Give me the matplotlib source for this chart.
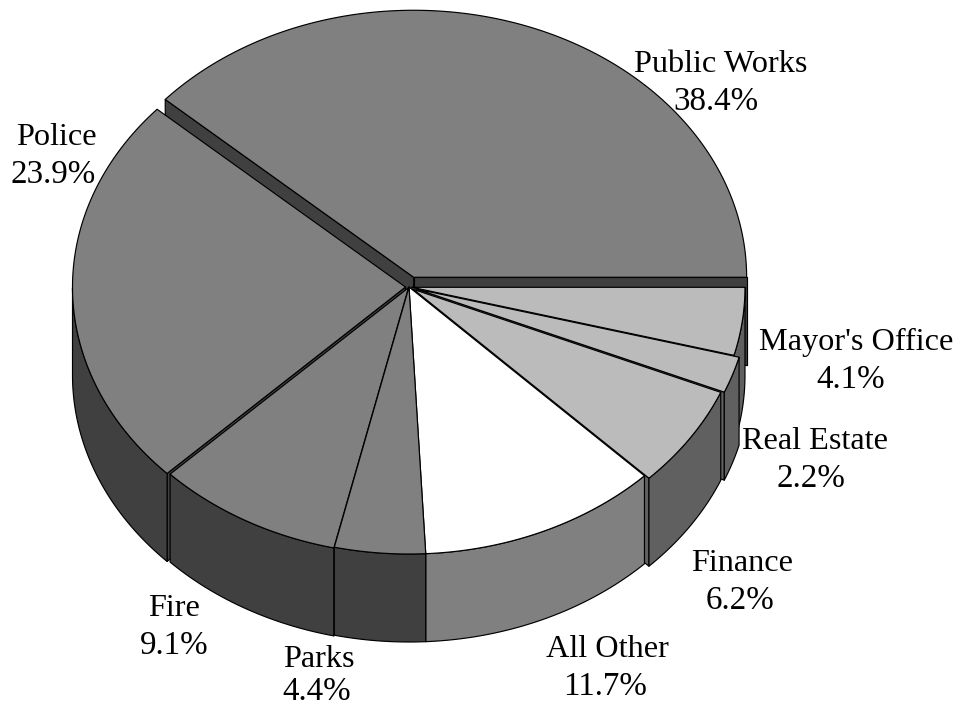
import matplotlib
matplotlib.use("Agg")
import matplotlib.pyplot as plt
from matplotlib.patches import Polygon
import numpy as np

# budget shares, counter-clockwise from due east
departments = ["Public Works", "Police", "Fire", "Parks", "All Other", "Finance", "Real Estate", "Mayor's Office"]
shares = [38.4, 23.9, 9.1, 4.4, 11.7, 6.2, 2.2, 4.1]

# how far each slice is pulled out along its bisector, in pixels
explode = [13, 3.5, 1, 0, 0, 5.4, 8.5, 3]

top_colors = ["#808080", "#808080", "#808080", "#808080", "#ffffff", "#bbbbbb", "#bbbbbb", "#bbbbbb"]
side_colors = ["#404040", "#404040", "#404040", "#404040", "#808080", "#606060", "#606060", "#606060"]

name_xy = [(721, 72), (56, 145), (174.5, 616), (319, 667), (607, 657), (742, 571), (815, 449), (856, 350)]
value_xy = [(716, 110), (53, 183), (174, 654), (317, 700), (605, 695), (740, 609), (811, 487), (851, 388)]

# back slices first so the front ones cover them
draw_order = [0, 1, 7, 6, 5, 4, 2, 3]

CX, CY = 409, 287
RX, RY = 333, 267
DEPTH = 88
LW = 0.85
FONT = "Liberation Serif"


def rim(cx, cy, a):
    a = np.radians(a)
    return np.column_stack([cx + RX * np.cos(a), cy - RY * np.sin(a)])


def quad(ax, pts, color):
    ax.add_patch(Polygon(pts, closed=True, facecolor=color, edgecolor="black", linewidth=LW, joinstyle="round"))


def draw_slice(ax, start, end, pull, top, side):
    mid = np.radians((start + end) / 2)
    cx = CX + pull * np.cos(mid)
    cy = CY - pull * np.sin(mid) * RY / RX
    apex = np.array([cx, cy])
    drop = np.array([0, DEPTH])

    # cut faces, only those turned towards the viewer
    for edge, normal in ((start, start - 90), (end, end + 90)):
        if np.sin(np.radians(normal)) < 0:
            p = rim(cx, cy, np.array([edge]))[0]
            quad(ax, [apex, p, p + drop, apex + drop], side)

    # outer wall, lower half of the ellipse only
    angles = np.linspace(start, end, 200)
    front = angles[np.sin(np.radians(angles)) <= 0]
    if len(front) > 1:
        arc = rim(cx, cy, front)
        quad(ax, np.vstack([arc, (arc + drop)[::-1]]), side)

    quad(ax, np.vstack([apex, rim(cx, cy, angles)]), top)


fig = plt.figure(figsize=(9.6, 7.06), dpi=100)
ax = fig.add_axes([0, 0, 1, 1])
ax.set_xlim(0, 960)
ax.set_ylim(706, 0)
ax.axis("off")

edges = np.concatenate([[0], np.cumsum(shares)]) * 3.6
for i in draw_order:
    draw_slice(ax, edges[i], edges[i + 1], explode[i], top_colors[i], side_colors[i])

for name, value, nxy, vxy in zip(departments, shares, name_xy, value_xy):
    ax.text(nxy[0], nxy[1], name, ha="center", va="baseline", family=FONT, fontsize=23.2, color="black")
    ax.text(vxy[0], vxy[1], f"{value}%", ha="center", va="baseline", family=FONT, fontsize=23.8, color="black")

fig.savefig("out.png", dpi=100, facecolor="white")
